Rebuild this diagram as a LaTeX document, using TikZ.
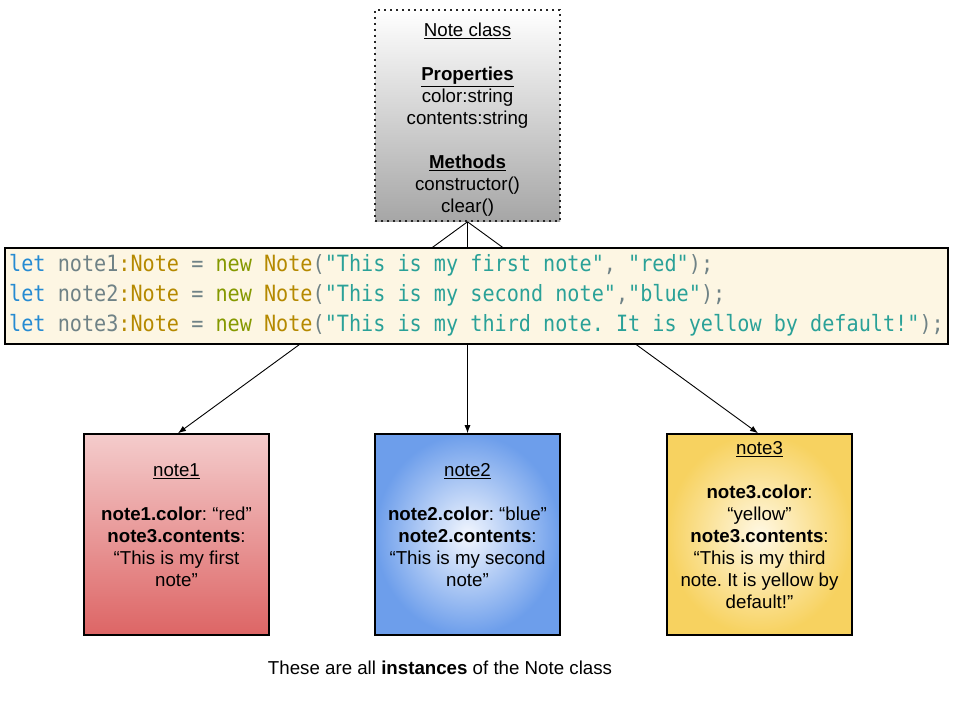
\documentclass[tikz,border=0pt]{standalone}
\usepackage{fontspec}
\setmainfont{Liberation Sans}
\newfontfamily\codefont[FakeStretch=0.9]{DejaVu Sans Mono}
\usetikzlibrary{arrows.meta,shadings}
\definecolor{cBlue}{HTML}{268BD2}
\definecolor{cGray}{HTML}{6F8286}
\definecolor{cYel}{HTML}{B58900}
\definecolor{cGrn}{HTML}{859900}
\definecolor{cCyan}{HTML}{2AA198}
\definecolor{codebg}{HTML}{FDF6E3}
\definecolor{redtop}{HTML}{F4CCCC}
\definecolor{redbot}{HTML}{DD6565}
\definecolor{blueout}{HTML}{6D9EEB}
\definecolor{bluein}{HTML}{F2F6FE}
\definecolor{yelout}{HTML}{F7D260}
\definecolor{yelin}{HTML}{FFF8E4}
\definecolor{graybot}{HTML}{A6A6A6}
\newcommand\kBl{\color{cBlue}}
\newcommand\kGr{\color{cGray}}
\newcommand\kYe{\color{cYel}}
\newcommand\kGn{\color{cGrn}}
\newcommand\kCy{\color{cCyan}}
\frenchspacing
\tikzset{
  boxbase/.style={rectangle, inner sep=0pt, minimum width=185pt, minimum height=201pt},
  classbox/.style={rectangle, inner sep=0pt, minimum width=185pt, minimum height=211pt,
    draw=black!85, line width=1.6pt, dash pattern=on 1.6pt off 4.4pt,
    top color=white, bottom color=graybot},
  notered/.style={boxbase, draw=black, line width=1.6pt, top color=redtop, bottom color=redbot},
  noteblue/.style={boxbase, draw=black, line width=1.6pt, inner color=bluein, outer color=blueout},
  noteyel/.style={boxbase, draw=black, line width=1.6pt, inner color=yelin, outer color=yelout},
  codebox/.style={rectangle, inner sep=0pt, minimum width=943pt, minimum height=96pt,
    draw=black, line width=1.2pt, fill=codebg},
  txt/.style={align=center, inner sep=0pt, font=\fontsize{18.7}{22}\selectfont},
  codetxt/.style={anchor=base west, inner sep=0pt, font=\codefont\fontsize{22.4}{30}\selectfont\frenchspacing},
  arr/.style={draw=black, line width=0.9pt, -{Latex[length=8pt,width=6pt]}}
}
\begin{document}
\begin{tikzpicture}[x=1pt,y=-1pt]
\useasboundingbox (0,0) rectangle (960,720);
\fill[white] (0,0) rectangle (960,720);
% class box
\node[classbox] (cls) at (467.5,115.5) {};
\node[txt] (clstxt) at (467.5,120) {\underline{Note class}\\[22pt]
  \underline{\textbf{Properties}}\\ color:string\\ contents:string\\[22pt]
  \underline{\textbf{Methods}}\\ constructor()\\ clear()};
% note boxes
\node[notered] (n1) at (176.5,534.5) {};
\node[noteblue] (n2) at (467.5,534.5) {};
\node[noteyel] (n3) at (759.5,534.5) {};
\node[txt] (n1txt) at (176.5,525) {\underline{note1}\\[22pt]
  \textbf{note1.color}: “red”\\ \textbf{note3.contents}:\\ “This is my first\\ note”};
\node[txt] (n2txt) at (467.5,525) {\underline{note2}\\[22pt]
  \textbf{note2.color}: “blue”\\ \textbf{note2.contents}:\\ “This is my second\\ note”};
\node[txt] (n3txt) at (759.5,525) {\underline{note3}\\[22pt]
  \textbf{note3.color}:\\ “yellow”\\ \textbf{note3.contents}:\\ “This is my third\\ note. It is yellow by\\ default!”};
% connectors (behind code box)
\draw[arr] (cls.south) -- ([xshift=1.5pt]n1.north);
\draw[arr] (cls.south) -- (n2.north);
\draw[arr] (cls.south) -- ([xshift=-1.5pt]n3.north);
% code box
\node[codebox] (code) at (476.5,296) {};
\node[codetxt] (c1) at (9,271) {{\kBl let} {\kGr note1}{\kYe :Note} {\kGr =} {\kGn new} {\kYe Note}{\kGr (}{\kCy "This is my first note"}{\kGr ,} {\kCy "red"}{\kGr );}};
\node[codetxt] (c2) at (9,301) {{\kBl let} {\kGr note2}{\kYe :Note} {\kGr =} {\kGn new} {\kYe Note}{\kGr (}{\kCy "This is my second note"}{\kGr ,}{\kCy "blue"}{\kGr );}};
\node[codetxt] (c3) at (9,331) {{\kBl let} {\kGr note3}{\kYe :Note} {\kGr =} {\kGn new} {\kYe Note}{\kGr (}{\kCy "This is my third note. It is yellow by default!"}{\kGr );}};
% caption
\node[txt] (cap) at (440,668) {These are all \textbf{instances} of the Note class};
\end{tikzpicture}
\end{document}
